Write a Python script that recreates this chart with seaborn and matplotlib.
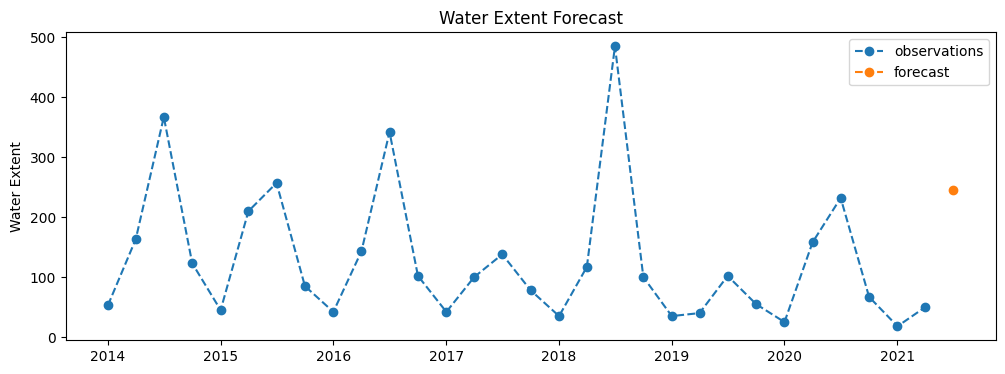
import pandas as pd
import matplotlib
matplotlib.use("Agg")
import matplotlib.pyplot as plt
import seaborn as sns

# quarterly observations
obs_dates = pd.date_range("2014-01-01", "2021-04-01", freq="QS")
obs_values = [53, 163, 367, 123, 45, 210, 257, 85, 42, 143, 342, 102,
              42, 100, 138, 78, 35, 117, 485, 100, 35, 40, 102, 55,
              25, 158, 232, 67, 18, 50]

fc_dates = pd.to_datetime(["2021-07-01"])
fc_values = [245]

df_obs = pd.DataFrame({"date": obs_dates, "value": obs_values})
df_fc = pd.DataFrame({"date": fc_dates, "value": fc_values})

fig, ax = plt.subplots(figsize=(12, 4))
sns.lineplot(data=df_obs, x="date", y="value", ax=ax, color="tab:blue",
             linestyle="--", marker="o", markersize=6, markeredgewidth=1,
             markeredgecolor="tab:blue", label="observations")
sns.lineplot(data=df_fc, x="date", y="value", ax=ax, color="tab:orange",
             linestyle="--", marker="o", markersize=6, markeredgewidth=1,
             markeredgecolor="tab:orange", label="forecast")

ax.set_title("Water Extent Forecast")
ax.set_ylabel("Water Extent")
ax.set_xlabel("")
ax.legend(loc="upper right")

plt.savefig("out.png", dpi=100, bbox_inches="tight")
plt.close()
